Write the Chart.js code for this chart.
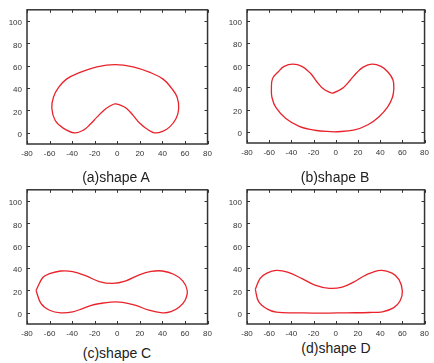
<!DOCTYPE html>
<html>
<head>
<meta charset="utf-8">
<script src="https://cdn.jsdelivr.net/npm/chart.js@4.4.0/dist/chart.umd.min.js"></script>
<style>
  html, body { margin: 0; padding: 0; background: #fff; }
  body { width: 434px; height: 363px; position: relative; overflow: hidden; font-family: "Liberation Sans", Arial, sans-serif; }
  canvas { position: absolute; }
  .cap { position: absolute; width: 140px; font-size: 14px; line-height: 16px; color: #222; text-align: center; }
</style>
</head>
<body>
<canvas id="chartA" width="217" height="160" style="left:0;top:0"></canvas>
<canvas id="chartB" width="217" height="160" style="left:217px;top:0"></canvas>
<canvas id="chartC" width="217" height="160" style="left:0;top:180px"></canvas>
<canvas id="chartD" width="217" height="160" style="left:217px;top:180px"></canvas>
<div class="cap" style="left:46px;top:169px">(a)shape A</div>
<div class="cap" style="left:265px;top:169px">(b)shape B</div>
<div class="cap" style="left:47px;top:345px">(c)shape C</div>
<div class="cap" style="left:266px;top:340px">(d)shape D</div>
<script>
// 軸の目盛り
const xTicks = [-80, -60, -40, -20, 0, 20, 40, 60, 80];
const yTicks = [0, 20, 40, 60, 80, 100];

// 各形状の輪郭 (x, y)
const shapeAX = [-2, 2, 8, 14, 20, 26, 33, 40.6, 46.5, 52, 54.4, 53, 48, 40.6, 29, 14, -2, -18, -33, -45, -52, -56.5, -58, -55, -47.6, -38, -30, -24, -18, -12, -6.5];
const shapeAY = [26, 25, 22, 15.6, 8.5, 3.6, 0, 1.5, 5.3, 12.6, 21.5, 32, 40, 48, 54, 59, 61, 59, 54, 48, 40.6, 32, 22, 11, 4, 0, 2.4, 7.6, 14, 20, 24];

const shapeBX = [-1.5, -19, -33, -45, -54, -57.5, -58, -57, -52, -46.5, -38.7, -30.5, -23, -17.4, -11.6, -5.8, -3, 2, 7, 13, 19, 24.7, 32.6, 40.7, 47, 51.5, 52.3, 51, 46.5, 39, 29, 16];
const shapeBY = [0, 1.5, 5, 12, 22, 31, 39, 48, 54, 59, 61, 59, 53, 45.6, 39, 35.8, 35, 37, 40, 46.5, 53.5, 58.4, 61, 59, 54, 47, 39, 31, 22, 13.7, 6.4, 1.5];

const shapeCX = [-72, -66, -60, -50, -39.5, -27.7, -16, -4, 7.7, 19.5, 30, 40, 50, 58, 62, 60, 55, 47.5, 40, 28, 16.5, 4.7, -5.6, -16, -23, -30.7, -39.5, -50, -60, -67.5];
const shapeCY = [20, 31.6, 35, 37.4, 36.8, 33, 28, 26.3, 28.6, 34, 37, 37.4, 34.5, 28.6, 20, 11, 5.3, 1, 0, 2.3, 6.7, 9.4, 9.6, 8.2, 6.7, 3.8, 0.9, 0, 2.3, 8.2];

const shapeDX = [-72.5, -68, -62, -53.6, -43.5, -30.4, -18.8, -5.8, 5.8, 16, 27.5, 40.6, 50.7, 57, 60, 58, 52, 42, 30.4, 10, -13, -33, -53.6, -62, -69.5];
const shapeDY = [21, 31, 35.5, 38, 36.4, 30.6, 24.8, 21.9, 23, 27.4, 34, 38, 35.5, 29.7, 19.5, 10.8, 4.4, 0.9, 0.3, 0, -0.3, 0, 0.6, 3.5, 10];

// 枠線と内向きの目盛り線
const frameAndTicks = {
    id: 'frameAndTicks',
    afterDraw(chart) {
        const ctx = chart.ctx;
        const a = chart.chartArea;
        const x = chart.scales.x;
        const y = chart.scales.y;
        ctx.save();
        ctx.strokeStyle = '#333';
        ctx.lineWidth = 1;
        ctx.beginPath();
        xTicks.forEach(v => {
            const px = Math.round(x.getPixelForValue(v)) + 0.5;
            ctx.moveTo(px, a.bottom); ctx.lineTo(px, a.bottom - 3);
            ctx.moveTo(px, a.top); ctx.lineTo(px, a.top + 3);
        });
        yTicks.forEach(v => {
            const py = Math.round(y.getPixelForValue(v)) + 0.5;
            ctx.moveTo(a.left, py); ctx.lineTo(a.left + 3, py);
            ctx.moveTo(a.right, py); ctx.lineTo(a.right - 3, py);
        });
        ctx.stroke();
        ctx.lineWidth = 1.5;
        ctx.strokeRect(a.left, a.top, a.right - a.left, a.bottom - a.top);
        ctx.restore();
    }
};

function drawShape(id, xs, ys, g) {
    const pts = xs.map((v, i) => ({ x: v, y: ys[i] }));
    pts.push({ x: xs[0], y: ys[0] });
    const tickFont = { family: '"Liberation Sans", Arial, sans-serif', size: 8 };
    return new Chart(document.getElementById(id), {
        type: 'scatter',
        data: {
            datasets: [{
                data: pts,
                showLine: true,
                pointRadius: 0,
                borderColor: '#e8232b',
                borderWidth: 1.3,
                tension: 0.4
            }]
        },
        options: {
            responsive: false,
            animation: false,
            layout: { padding: { top: g.top, right: g.right, left: 0, bottom: 0 } },
            scales: {
                x: {
                    min: -80, max: 80,
                    afterBuildTicks: s => { s.ticks = xTicks.map(v => ({ value: v })); },
                    afterFit: s => { s.height = g.xh; },
                    grid: { display: false, drawTicks: false, tickLength: 0 },
                    border: { display: false },
                    ticks: { font: tickFont, color: '#333', padding: 5, maxRotation: 0, autoSkip: false }
                },
                y: {
                    min: -10, max: 110,
                    afterBuildTicks: s => { s.ticks = yTicks.map(v => ({ value: v })); },
                    afterFit: s => { s.width = g.yw; },
                    grid: { display: false, drawTicks: false, tickLength: 0 },
                    border: { display: false },
                    ticks: { font: tickFont, color: '#333', padding: 5, labelOffset: 2, autoSkip: false }
                }
            },
            plugins: { legend: { display: false }, tooltip: { enabled: false } }
        },
        plugins: [frameAndTicks]
    });
}

drawShape('chartA', shapeAX, shapeAY, { top: 8, right: 9, xh: 16, yw: 27 });
drawShape('chartB', shapeBX, shapeBY, { top: 8, right: 6, xh: 17, yw: 30 });
drawShape('chartC', shapeCX, shapeCY, { top: 8, right: 9, xh: 16, yw: 27 });
drawShape('chartD', shapeDX, shapeDY, { top: 8, right: 6, xh: 16, yw: 30 });
</script>
</body>
</html>
